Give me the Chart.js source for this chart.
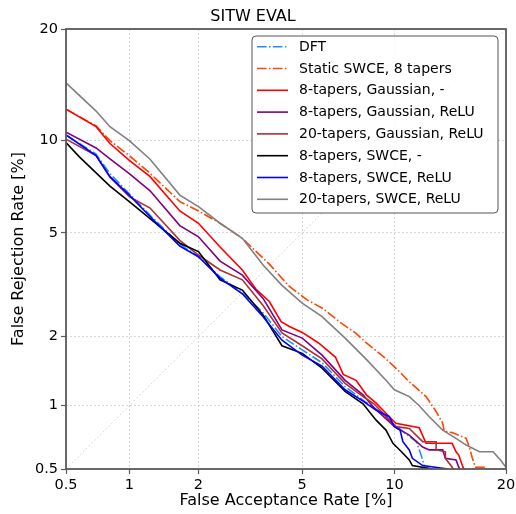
<!DOCTYPE html>
<html><head><meta charset="utf-8">
<script src="https://cdn.jsdelivr.net/npm/chart.js@4.4.1/dist/chart.umd.min.js"></script>
<style>html,body{margin:0;padding:0;background:#fff;}canvas{display:block;}</style>
</head><body>
<canvas id="c" width="516" height="514"></canvas>
<script>
// ---------- data (percent values) ----------
const tickValues = [0.5, 1, 2, 5, 10, 20];
const seriesLabels = ['DFT', 'Static SWCE, 8 tapers', '8-tapers, Gaussian, -', '8-tapers, Gaussian, ReLU',
  '20-tapers, Gaussian, ReLU', '8-tapers, SWCE, -', '8-tapers, SWCE, ReLU', '20-tapers, SWCE, ReLU'];

const dftFar = [0.5,0.7,0.814,1.0,1.24,1.67,2.0,2.45,3.0,3.6,4.23,5.0,5.86,7.0,8.0,9.0,9.9,10.6,11.07,11.6,12.0,12.3,12.4];
const dftFrr = [10.4,9.1,7.9,6.8,5.75,4.55,4.1,3.45,3.0,2.5,2.0,1.76,1.55,1.22,1.06,0.94,0.83,0.76,0.72,0.68,0.58,0.5,0.48];

const staticFar = [0.5,0.7,0.814,1.0,1.24,1.67,2.0,2.45,3.0,3.8,4.5,5.2,5.9,6.7,7.6,8.2,9.3,10.35,10.95,12.37,13.2,13.76,13.9,14.6,15.9,16.2,16.5,16.8,17.8,18.0];
const staticFrr = [12.35,11.05,10.0,9.0,7.92,6.4,5.95,5.4,4.78,3.85,3.17,2.81,2.6,2.3,2.06,1.88,1.64,1.42,1.30,1.10,0.94,0.83,0.76,0.75,0.704,0.64,0.564,0.51,0.51,0.48];

const gauss8Far = [0.5,0.7,0.814,1.0,1.24,1.67,2.0,2.45,3.0,3.38,3.8,4.2,4.5,5.0,5.7,6.5,6.9,7.6,8.2,8.78,9.43,10.1,11.83,12.37,14.6,14.95,15.2,15.6,15.9];
const gauss8Frr = [12.35,11.0,9.8,8.7,7.73,5.95,5.4,4.45,3.66,3.1,2.77,2.3,2.2,2.08,1.88,1.64,1.38,1.3,1.12,1.03,0.923,0.83,0.79,0.667,0.667,0.607,0.585,0.51,0.48];

const gauss8ReluFar = [0.5,0.7,0.814,1.0,1.24,1.67,2.0,2.45,3.0,3.6,4.23,5.0,5.86,7.0,8.0,8.66,10,11.07,12.1,12.63,13.76,14.0,14.95,15.2,15.5];
const gauss8ReluFrr = [10.6,9.5,8.8,7.9,6.95,5.3,4.84,3.95,3.5,2.85,2.13,1.97,1.67,1.30,1.12,0.98,0.8,0.73,0.64,0.62,0.62,0.564,0.554,0.51,0.48];

const gauss20ReluFar = [0.5,0.7,0.814,1.0,1.24,1.67,2.0,2.45,3.0,3.6,4.23,5.0,5.86,7.0,8.0,8.66,10.1,11.07,12.1,13.2,13.2,14.0,14.0,14.6,14.8];
const gauss20ReluFrr = [10.1,9.0,7.7,6.65,6.09,4.7,4.16,3.66,3.36,2.67,2.07,1.83,1.61,1.26,1.1,1.02,0.80,0.785,0.679,0.679,0.62,0.607,0.564,0.51,0.48];

const swce8Far = [0.5,0.58,0.7,0.814,1.0,1.24,1.67,2.0,2.45,3.0,3.6,4.23,5.0,5.86,7.0,8.0,8.78,9.43,9.9,10.5,11.07,11.3,12.9,13.0];
const swce8Frr = [9.86,8.94,7.95,7.2,6.4,5.6,4.59,4.28,3.36,3.07,2.45,1.83,1.7,1.47,1.16,1.02,0.86,0.771,0.667,0.607,0.554,0.52,0.5,0.48];

const swce8ReluFar = [0.5,0.7,0.814,1.0,1.24,1.67,2.0,2.45,3.0,3.6,4.23,5.0,5.86,7.0,8.0,8.78,9.65,10,10.4,10.6,11.07,11.3,12.1,14.2,14.4];
const swce8ReluFrr = [10.4,9.0,7.73,6.73,5.7,4.48,4.1,3.41,2.97,2.41,1.93,1.67,1.5,1.18,1.05,0.955,0.89,0.80,0.771,0.679,0.62,0.564,0.52,0.5,0.48];

const swce20ReluFar = [0.5,0.7,0.814,1.0,1.24,1.67,2.0,2.45,3.0,3.6,4.23,5.0,5.86,7.0,8.24,9.43,10,11.07,11.83,12.63,13.76,14.95,15.9,17.2,18.6,19.4,20.0,20.5];
const swce20ReluFrr = [14.6,12.2,11.0,10.0,8.77,6.73,6.16,5.4,4.78,3.82,3.2,2.73,2.41,1.97,1.59,1.30,1.18,1.10,1.0,0.89,0.771,0.704,0.654,0.607,0.607,0.554,0.51,0.48];

const diagFar = [0.5, 20];
const diagFrr = [0.5, 20];

// ---------- styling ----------
const seriesColors = ['#1f8fff', '#ff4500', '#ff0000', '#800080', '#b03030', '#000000', '#0000ff', '#808080'];
const dashDot = [9.6, 2.4, 1.5, 2.4];
const seriesDash = [dashDot, dashDot, [], [], [], [], [], []];
const FONT = 'DejaVu Sans';

// ---------- probit (normal deviate) scale ----------
function probit(p) {
  const a=[-3.969683028665376e+01,2.209460984245205e+02,-2.759285104469687e+02,1.383577518672690e+02,-3.066479806614716e+01,2.506628277459239e+00];
  const b=[-5.447609879822406e+01,1.615858368580409e+02,-1.556989798598866e+02,6.680131188771972e+01,-1.328068155288572e+01];
  const c=[-7.784894002430293e-03,-3.223964580411365e-01,-2.400758277161838e+00,-2.549732539343734e+00,4.374664141464968e+00,2.938163982698783e+00];
  const d=[7.784695709041462e-03,3.224671290700398e-01,2.445134137142996e+00,3.754408661907416e+00];
  const pl = 0.02425, ph = 1 - pl;
  let q, r;
  if (p < pl) { q = Math.sqrt(-2*Math.log(p)); return (((((c[0]*q+c[1])*q+c[2])*q+c[3])*q+c[4])*q+c[5])/((((d[0]*q+d[1])*q+d[2])*q+d[3])*q+1); }
  if (p <= ph) { q = p - 0.5; r = q*q; return (((((a[0]*r+a[1])*r+a[2])*r+a[3])*r+a[4])*r+a[5])*q/(((((b[0]*r+b[1])*r+b[2])*r+b[3])*r+b[4])*r+1); }
  q = Math.sqrt(-2*Math.log(1-p));
  return -(((((c[0]*q+c[1])*q+c[2])*q+c[3])*q+c[4])*q+c[5])/((((d[0]*q+d[1])*q+d[2])*q+d[3])*q+1);
}
function normCdf(z) {
  const t = 1/(1+0.3275911*Math.abs(z)/Math.SQRT2);
  const y = 1 - (((((1.061405429*t - 1.453152027)*t) + 1.421413741)*t - 0.284496736)*t + 0.254829592)*t*Math.exp(-z*z/2);
  return 0.5*(1 + (z >= 0 ? y : -y));
}
class ProbitScale extends Chart.LinearScale {
  determineDataLimits() { this.min = this.options.min; this.max = this.options.max; }
  buildTicks() { return tickValues.map(v => ({ value: v })); }
  configure() {
    super.configure();
    this._zmin = probit(this.min / 100);
    this._zmax = probit(this.max / 100);
  }
  getPixelForValue(value) {
    const p = Math.min(Math.max(value, 1e-6), 99.999999) / 100;
    return this.getPixelForDecimal((probit(p) - this._zmin) / (this._zmax - this._zmin));
  }
  getValueForPixel(pixel) {
    const dd = this.getDecimalForPixel(pixel);
    return 100 * normCdf(this._zmin + dd * (this._zmax - this._zmin));
  }
}
ProbitScale.id = 'probit';
ProbitScale.defaults = {};
Chart.register(ProbitScale);

const pts = (xs, ys) => xs.map((x, i) => ({ x: x, y: ys[i] }));
const seriesData = [
  pts(dftFar, dftFrr), pts(staticFar, staticFrr), pts(gauss8Far, gauss8Frr), pts(gauss8ReluFar, gauss8ReluFrr),
  pts(gauss20ReluFar, gauss20ReluFrr), pts(swce8Far, swce8Frr), pts(swce8ReluFar, swce8ReluFrr), pts(swce20ReluFar, swce20ReluFrr)
];

const datasets = seriesData.map((d, i) => ({
  label: seriesLabels[i], data: d, borderColor: seriesColors[i], borderWidth: 1.6,
  borderDash: seriesDash[i], pointRadius: 0, tension: 0, fill: false, order: seriesLabels.length - i
}));
datasets.push({ label: '_diag', data: pts(diagFar, diagFrr), borderColor: '#d2d2d2', borderWidth: 0.8,
  borderDash: [2, 2], pointRadius: 0, fill: false, order: 100 });

// frame + legend
const framePlugin = {
  id: 'frameLegend',
  afterDatasetsDraw(chart) {
    const { ctx, chartArea: ca } = chart;
    ctx.save();
    ctx.strokeStyle = '#5a5a5a';
    ctx.lineWidth = 1.8;
    ctx.strokeRect(ca.left, ca.top, ca.right - ca.left, ca.bottom - ca.top);
    const x0 = 252, y0 = 36, w = 246, h = 177, r = 4;
    ctx.beginPath();
    ctx.moveTo(x0 + r, y0);
    ctx.arcTo(x0 + w, y0, x0 + w, y0 + h, r);
    ctx.arcTo(x0 + w, y0 + h, x0, y0 + h, r);
    ctx.arcTo(x0, y0 + h, x0, y0, r);
    ctx.arcTo(x0, y0, x0 + w, y0, r);
    ctx.closePath();
    ctx.fillStyle = 'rgba(255,255,255,0.85)';
    ctx.fill();
    ctx.strokeStyle = '#555';
    ctx.lineWidth = 1;
    ctx.stroke();
    ctx.font = '14px "' + FONT + '"';
    ctx.textBaseline = 'middle';
    ctx.textAlign = 'left';
    seriesLabels.forEach((lab, i) => {
      const y = 46.7 + i * 21.8;
      ctx.beginPath();
      ctx.setLineDash(seriesDash[i]);
      ctx.strokeStyle = seriesColors[i];
      ctx.lineWidth = 1.6;
      ctx.moveTo(257, y); ctx.lineTo(288, y);
      ctx.stroke();
      ctx.setLineDash([]);
      ctx.fillStyle = '#000';
      ctx.fillText(lab, 299, y + 0.5);
    });
    ctx.restore();
  }
};

const axisCommon = {
  type: 'probit', min: 0.5, max: 20,
  grid: { color: '#cfcfcf', lineWidth: 0.8, borderDash: [2, 2], drawTicks: true, tickLength: 5,
    tickColor: '#5a5a5a', tickWidth: 1.2, tickBorderDash: [] },
  border: { display: false, dash: [2, 2] },
  ticks: { autoSkip: false, maxRotation: 0, padding: 3, color: '#000',
    font: { family: FONT, size: 14.5 }, callback: v => String(v) }
};

new Chart(document.getElementById('c'), {
  type: 'line',
  data: { datasets: datasets },
  options: {
    responsive: false, animation: false, devicePixelRatio: 1, events: [],
    layout: { padding: { left: 0, right: 10, top: 0, bottom: 0 } },
    plugins: {
      legend: { display: false }, tooltip: { enabled: false },
      title: { display: true, text: 'SITW EVAL', color: '#000', font: { family: FONT, size: 16, weight: 'normal' },
        padding: { top: 7.5, bottom: 2.3 } }
    },
    scales: {
      x: Object.assign({}, axisCommon, { position: 'bottom',
        title: { display: true, text: 'False Acceptance Rate [%]', color: '#000', font: { family: FONT, size: 16 },
          padding: { top: 0, bottom: 4 } },
        afterFit: s => { s.height = 45; s.paddingLeft = 0; s.paddingRight = 0; } }),
      y: Object.assign({}, axisCommon, { position: 'left',
        title: { display: true, text: 'False Rejection Rate [%]', color: '#000', font: { family: FONT, size: 16 },
          padding: { top: 9, bottom: 0 } },
        afterFit: s => { s.width = 66; s.paddingTop = 0; s.paddingBottom = 0; } })
    }
  },
  plugins: [framePlugin]
});
</script></body></html>
